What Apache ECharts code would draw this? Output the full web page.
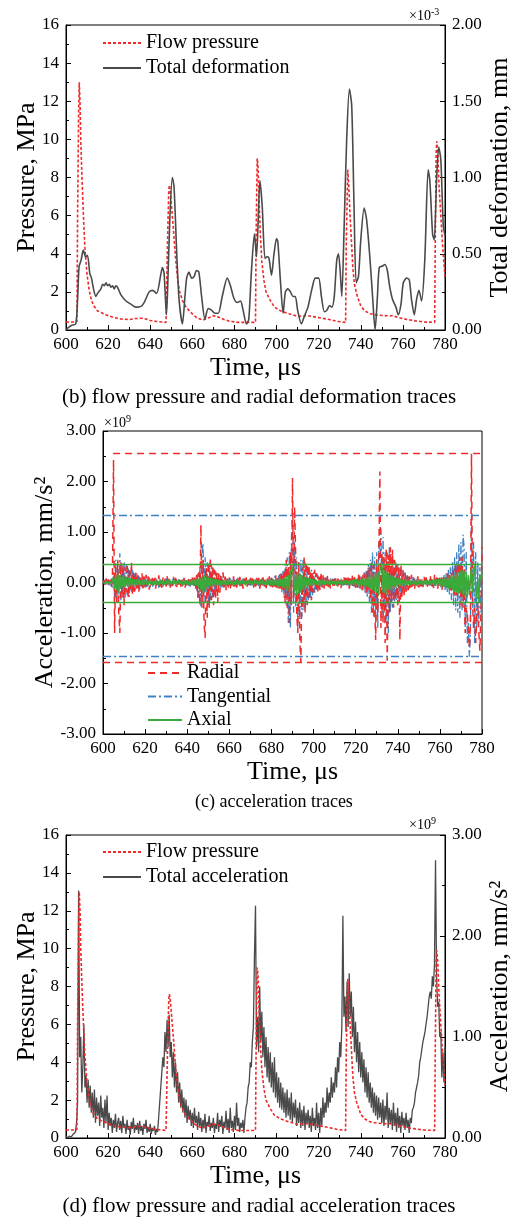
<!DOCTYPE html>
<html>
<head>
<meta charset="utf-8">
<script src="https://cdn.jsdelivr.net/npm/echarts@6/dist/echarts.min.js"></script>
<style>
html,body{margin:0;padding:0;background:#fff;}
#c{width:518px;height:1218px;}
</style>
</head>
<body>
<div id="c"></div>
<script>
// ---------- DATA ----------
// flow pressure, MPa : [time µs, value]
const flowPressure = [
[600,0.42],[604,0.42],[605.2,0.45],[605.5,6],[606,11.5],[606.3,13.0],[606.7,11.8],[607,10],[607.5,8.3],[608,6.8],
[608.5,5.4],[609,4.3],[610,2.9],[611,2.1],[612,1.6],[613,1.3],[615,1.0],[618,0.85],[620,0.75],[623,0.65],
[626,0.58],[630,0.55],[633,0.6],[636,0.62],[638,0.57],[640,0.5],[643,0.45],[647.5,0.4],[647.8,0.5],[648.2,4.5],
[648.8,7.3],[649.1,7.6],[649.6,7.2],[650.2,6.4],[651,5.3],[652,3.8],[653,2.7],[654,2.0],[655.3,1.55],[657,1.2],
[659.5,0.9],[662,0.65],[665,0.52],[668,0.65],[670,0.75],[672,0.7],[675,0.55],[678,0.45],[682,0.4],[690,0.4],
[690.3,5.0],[690.8,9.0],[691.2,8.6],[691.7,6.8],[692.3,5.0],[693,3.6],[694,2.6],[695,2.0],[697,1.55],[699,1.2],
[702,1.0],[706,0.85],[710,0.72],[715,0.75],[720,0.65],[725,0.55],[729,0.45],[732.8,0.4],[733.1,4.5],[733.8,8.4],
[734.3,7.6],[734.9,6.0],[735.5,4.8],[736.2,3.3],[737,2.4],[738,1.9],[740,1.25],[742,1.0],[744.5,0.85],[748,0.78],
[752,0.75],[755,0.75],[758,0.65],[762,0.55],[766,0.48],[770,0.42],[775.1,0.4],[775.4,5.0],[775.8,9.3],[776.1,9.9],
[776.6,9.2],[777.2,7.5],[778,6.0],[779,4.2],[780,2.8]
];

// total deformation, ×10^-3 mm : [time µs, value]
const totalDeformation = [
[600,0.0],[600.6,0.01],[602.5,0.03],[604.6,0.04],[605.5,0.2],[606.2,0.415],[607.2,0.46],[608.2,0.525],[609.3,0.48],[610.2,0.49],
[611.3,0.37],[612.1,0.34],[613.2,0.26],[614.2,0.22],[615,0.24],[616.6,0.27],[617.4,0.3],[618.2,0.29],[619,0.31],[619.8,0.29],
[620.6,0.3],[621.3,0.28],[622.1,0.29],[622.9,0.27],[623.7,0.29],[624.5,0.28],[626.1,0.23],[628.5,0.19],[630.8,0.17],[633.2,0.15],
[635.6,0.155],[637.1,0.18],[639.5,0.25],[641.1,0.26],[643,0.24],[645.1,0.37],[645.8,0.41],[646.6,0.37],[647.7,0.10],[648.2,0.24],
[649.3,0.72],[650.5,1.0],[651.3,0.94],[652.6,0.50],[653.7,0.20],[655.3,0.04],[656.5,0.22],[657.3,0.34],[658.4,0.38],[659.7,0.34],
[660.8,0.35],[662,0.39],[663.1,0.38],[664.4,0.22],[666,0.07],[667.5,0.14],[669.1,0.13],[670.7,0.11],[672.3,0.11],[674.2,0.22],
[676.6,0.34],[678.1,0.29],[679.7,0.21],[681.3,0.18],[682.9,0.19],[684.1,0.13],[685.7,0.04],[686.8,0.07],[688,0.37],[689.5,0.63],
[690.5,0.48],[692.1,0.98],[693.2,0.81],[694.5,0.47],[695.6,0.48],[696.4,0.47],[697.6,0.36],[698.8,0.50],[700,0.60],[700.6,0.58],
[701.9,0.31],[703.1,0.11],[704.2,0.25],[705.4,0.27],[706.6,0.25],[707.8,0.22],[708.9,0.22],[710,0.13],[711.8,0.04],[713.2,0.09],
[714.9,0.15],[716.8,0.27],[718.4,0.34],[720,0.34],[721.3,0.22],[722.7,0.12],[723.9,0.13],[725.2,0.16],[726.3,0.15],[727.4,0.22],
[728.6,0.46],[729.4,0.50],[730.2,0.39],[731,0.22],[732.1,0.68],[733.3,1.25],[734.6,1.58],[735.7,1.47],[736.8,0.81],[737.8,0.31],
[738.9,0.35],[740,0.59],[741.6,0.80],[742.8,0.72],[744.4,0.46],[745.6,0.22],[746.8,0.0],[747.9,0.22],[748.8,0.41],[750.4,0.42],
[751.5,0.43],[752.6,0.39],[753.8,0.28],[755.1,0.20],[756.7,0.15],[757.8,0.10],[759.1,0.17],[760.2,0.31],[761.8,0.34],[763,0.33],
[764.1,0.20],[765.4,0.10],[766.5,0.20],[767.6,0.26],[768.9,0.19],[770.4,0.46],[772,1.05],[772.8,0.98],[774.1,0.63],[774.9,0.59],
[776,0.98],[777,1.20],[778,1.12],[779.2,0.68],[780,0.62]
];

// accelerations, ×10^9 mm/s², one value every 0.5 µs from 600 to 780 (10 values per row = 5 µs)
const accStartTime = 600;
const accStep = 0.5;
const radialAcc = [
0.00,0.04,-0.06,0.08,-0.04,0.06,-0.08,0.05,-0.10,0.15,
2.43,-1.00,0.30,-0.40,0.45,-0.60,-1.00,0.40,-0.30,0.35,
-0.45,0.30,-0.20,0.38,-0.30,0.25,-0.15,0.40,-0.25,0.20,
-0.18,0.22,-0.12,0.15,-0.20,0.10,-0.08,0.18,-0.12,0.12,
-0.10,0.15,-0.08,0.12,-0.14,0.06,-0.10,0.13,-0.06,0.09,
-0.12,0.08,-0.05,0.14,-0.09,0.06,-0.11,0.10,-0.04,0.08,
-0.08,0.12,-0.06,0.07,-0.10,0.05,-0.07,0.11,-0.05,0.09,
-0.09,0.06,-0.04,0.10,-0.08,0.05,-0.06,0.09,-0.10,0.07,
-0.05,0.10,-0.07,0.06,-0.09,0.12,-0.06,0.10,-0.12,0.15,
-0.30,0.20,-0.45,1.14,-0.50,0.45,-0.80,-1.10,0.30,-0.70,
0.40,-0.50,0.50,-0.35,0.30,-0.45,0.25,-0.30,0.20,-0.40,
0.18,-0.20,0.15,-0.12,0.20,-0.10,0.12,-0.15,0.08,-0.10,
0.10,-0.12,0.08,-0.06,0.12,-0.08,0.05,-0.10,0.09,-0.05,
0.11,-0.07,0.06,-0.12,0.08,-0.04,0.10,-0.08,0.06,-0.05,
0.12,-0.06,0.08,-0.10,0.05,-0.08,0.10,-0.06,0.09,-0.12,
0.07,-0.05,0.10,-0.09,0.06,-0.11,0.08,-0.05,0.12,-0.08,
0.10,-0.12,0.06,-0.08,0.14,-0.10,0.09,-0.13,0.16,-0.12,
0.20,-0.15,0.25,-0.40,0.45,-0.50,0.30,-0.80,0.60,-0.45,
2.07,-0.30,1.50,0.55,-0.60,-1.00,0.40,-1.20,-1.58,0.30,
-0.50,0.51,-0.60,0.40,-0.45,0.35,-0.30,0.25,-0.35,0.20,
-0.20,0.25,-0.15,0.18,-0.20,0.12,-0.15,0.20,-0.10,0.14,
-0.12,0.10,-0.08,0.15,-0.10,0.08,-0.12,0.06,-0.08,0.12,
-0.10,0.08,-0.06,0.12,-0.09,0.05,-0.11,0.09,-0.05,0.10,
-0.08,0.14,-0.06,0.10,-0.12,0.08,-0.07,0.15,-0.10,0.12,
-0.14,0.09,-0.10,0.20,-0.12,0.10,-0.15,0.15,-0.08,0.18,
-0.20,0.25,-0.15,0.30,-0.30,0.40,-0.60,0.35,-0.45,-1.14,
0.45,-0.60,0.50,2.20,-0.90,0.60,-0.80,0.50,-1.20,0.65,
-1.55,0.55,-0.60,0.70,-0.40,0.65,-0.50,0.45,-0.35,0.40,
-0.45,0.30,-1.14,0.35,-0.30,0.25,-0.25,0.20,-0.18,0.15,
-0.15,0.12,-0.10,0.15,-0.08,0.10,-0.12,0.08,-0.06,0.12,
-0.10,0.08,-0.12,0.06,-0.09,0.11,-0.05,0.10,-0.08,0.07,
-0.06,0.12,-0.09,0.08,-0.11,0.15,-0.07,0.10,-0.12,0.09,
-0.10,0.13,-0.15,0.10,-0.08,0.12,-0.14,0.18,-0.10,0.15,
-0.20,0.18,-0.15,0.25,-0.30,0.35,-0.25,0.40,-0.20,0.50,
-0.45,0.50,-0.50,0.30,-1.00,-0.50,-0.60,-0.90,-1.30,-0.80,
2.55,-0.40,-0.90,-0.50,-1.20,-0.70,-0.40,-1.00,-1.35,-0.60,
0.70
];
const tangentialAcc = [
0.00,-0.03,0.05,-0.04,0.06,-0.05,0.04,-0.06,0.08,-0.10,
0.20,-0.30,0.45,-0.40,0.35,-0.25,0.58,-0.35,0.40,-0.30,
0.40,-0.30,0.35,-0.25,0.30,-0.28,0.22,-0.20,0.25,-0.18,
0.20,-0.15,0.18,-0.12,0.15,-0.14,0.10,-0.12,0.12,-0.08,
0.10,-0.12,0.08,-0.06,0.10,-0.09,0.06,-0.08,0.07,-0.05,
0.09,-0.07,0.05,-0.10,0.08,-0.04,0.06,-0.08,0.05,-0.06,
0.08,-0.05,0.06,-0.09,0.04,-0.06,0.07,-0.04,0.05,-0.07,
0.06,-0.05,0.08,-0.04,0.05,-0.08,0.06,-0.05,0.04,-0.06,
0.07,-0.05,0.06,-0.08,0.05,-0.06,0.09,-0.10,0.12,-0.15,
0.20,-0.30,0.30,-0.50,0.55,0.78,-0.40,0.50,-0.20,0.40,
-0.45,0.40,-0.35,0.35,-0.30,0.28,-0.25,0.22,-0.20,0.18,
-0.15,0.15,-0.12,0.12,-0.10,0.10,-0.08,0.09,-0.07,0.08,
-0.06,0.08,-0.05,0.07,-0.08,0.05,-0.06,0.07,-0.04,0.06,
-0.07,0.05,-0.06,0.08,-0.05,0.04,-0.07,0.06,-0.05,0.07,
-0.06,0.05,-0.08,0.06,-0.04,0.07,-0.05,0.06,-0.07,0.05,
-0.05,0.08,-0.06,0.04,-0.08,0.06,-0.05,0.07,-0.06,0.09,
-0.08,0.10,-0.07,0.12,-0.10,0.08,-0.12,0.15,-0.12,0.18,
-0.20,0.25,-0.30,0.35,-0.45,0.50,-0.80,0.60,-0.90,0.90,
1.24,-0.60,0.80,-0.50,0.50,-0.90,0.40,-0.75,0.45,-0.68,
0.45,-0.55,0.40,-0.40,0.35,-0.35,0.30,-0.30,0.25,-0.25,
0.20,-0.20,0.18,-0.15,0.15,-0.12,0.12,-0.10,0.10,-0.10,
0.08,-0.08,0.10,-0.07,0.06,-0.09,0.08,-0.05,0.07,-0.06,
0.08,-0.07,0.05,-0.08,0.06,-0.05,0.09,-0.06,0.05,-0.08,
0.07,-0.05,0.06,-0.09,0.08,-0.06,0.05,-0.07,0.09,-0.08,
0.10,-0.12,0.08,-0.10,0.15,-0.12,0.12,-0.15,0.20,-0.20,
0.25,-0.30,0.35,-0.40,0.45,-0.60,0.60,-0.70,0.50,-0.80,
0.60,-0.90,0.80,0.50,1.07,-0.70,0.90,-0.60,0.60,-0.80,
0.60,-1.00,0.70,-0.60,0.50,-0.50,0.45,-0.40,0.40,-0.35,
0.35,-0.30,0.30,-0.28,0.25,-0.22,0.20,-0.18,0.15,-0.15,
0.12,-0.12,0.10,-0.10,0.10,-0.08,0.08,-0.07,0.06,-0.08,
0.07,-0.06,0.05,-0.08,0.06,-0.05,0.08,-0.07,0.05,-0.06,
0.07,-0.05,0.06,-0.08,0.05,-0.07,0.08,-0.06,0.09,-0.08,
0.10,-0.10,0.12,-0.12,0.15,-0.15,0.18,-0.20,0.25,-0.25,
0.30,-0.35,0.40,-0.45,0.50,-0.55,0.60,-0.60,0.75,-0.70,
0.80,-0.55,0.95,0.70,-0.90,0.60,-1.20,-0.80,-1.47,-1.00,
1.33,-0.50,0.80,-1.20,0.60,-0.90,0.40,-0.80,0.30,-0.60,
-0.40
];
const axialAcc = [
0.00,0.02,-0.02,0.03,-0.02,0.02,-0.03,0.02,-0.03,0.05,
0.10,-0.12,0.15,-0.15,0.18,-0.20,0.15,-0.12,0.12,-0.10,
0.12,-0.10,0.10,-0.08,0.09,-0.08,0.08,-0.07,0.07,-0.06,
0.06,-0.05,0.06,-0.05,0.05,-0.06,0.04,-0.05,0.05,-0.04,
0.05,-0.04,0.04,-0.05,0.05,-0.03,0.04,-0.05,0.03,-0.04,
0.05,-0.04,0.03,-0.05,0.04,-0.03,0.05,-0.04,0.03,-0.05,
0.04,-0.03,0.05,-0.04,0.03,-0.05,0.04,-0.03,0.05,-0.04,
0.03,-0.04,0.05,-0.03,0.04,-0.05,0.03,-0.04,0.05,-0.03,
0.04,-0.05,0.03,-0.04,0.05,-0.04,0.06,-0.05,0.07,-0.06,
0.08,-0.10,0.10,-0.15,0.12,-0.20,0.15,-0.18,0.12,-0.12,
0.10,-0.10,0.09,-0.08,0.08,-0.07,0.07,-0.06,0.06,-0.05,
0.05,-0.06,0.04,-0.05,0.05,-0.04,0.04,-0.05,0.05,-0.04,
0.04,-0.03,0.05,-0.04,0.03,-0.05,0.04,-0.03,0.05,-0.04,
0.03,-0.04,0.05,-0.03,0.04,-0.05,0.03,-0.04,0.05,-0.03,
0.04,-0.05,0.03,-0.04,0.05,-0.03,0.04,-0.05,0.03,-0.04,
0.05,-0.03,0.04,-0.05,0.03,-0.04,0.05,-0.04,0.06,-0.05,
0.05,-0.06,0.06,-0.05,0.07,-0.06,0.06,-0.08,0.08,-0.07,
0.08,-0.10,0.10,-0.12,0.12,-0.15,0.15,-0.18,0.20,0.25,
0.31,0.10,-0.20,0.15,-0.25,0.20,-0.22,0.18,-0.20,0.15,
-0.15,0.12,-0.12,0.10,-0.10,0.09,-0.08,0.08,-0.07,0.07,
-0.06,0.06,-0.05,0.05,-0.06,0.04,-0.05,0.05,-0.04,0.05,
-0.05,0.04,-0.03,0.05,-0.04,0.03,-0.05,0.04,-0.03,0.05,
-0.04,0.03,-0.05,0.04,-0.03,0.05,-0.04,0.03,-0.05,0.04,
-0.03,0.05,-0.04,0.03,-0.05,0.04,-0.05,0.05,-0.04,0.06,
-0.05,0.06,-0.06,0.05,-0.07,0.06,-0.06,0.08,-0.07,0.08,
-0.08,0.10,-0.10,0.12,-0.12,0.15,-0.15,0.15,-0.18,0.20,
-0.20,0.22,-0.25,0.25,0.30,0.35,-0.20,0.25,-0.22,0.20,
-0.25,0.18,-0.15,0.15,-0.15,0.12,-0.12,0.10,-0.10,0.09,
-0.08,0.08,-0.07,0.07,-0.06,0.06,-0.05,0.06,-0.05,0.05,
-0.04,0.05,-0.05,0.04,-0.03,0.05,-0.04,0.03,-0.05,0.04,
-0.03,0.05,-0.04,0.03,-0.05,0.04,-0.03,0.05,-0.04,0.03,
-0.05,0.04,-0.04,0.05,-0.05,0.06,-0.05,0.06,-0.06,0.07,
-0.06,0.07,-0.08,0.08,-0.08,0.10,-0.10,0.10,-0.12,0.12,
-0.12,0.15,-0.15,0.15,-0.18,0.18,-0.20,0.20,-0.22,0.25,
-0.20,0.25,-0.25,0.22,-0.28,0.20,-0.30,0.15,-0.25,0.10,
0.30,-0.20,0.20,0.37,-0.15,-0.30,0.10,-0.40,0.15,0.05,
0.25
];
const totalAcc = [
0.02,0.01,0.00,0.02,0.03,0.01,0.02,0.04,0.03,0.06,
0.15,0.35,2.45,0.80,1.00,0.45,0.70,1.12,0.50,0.62,
0.35,0.58,0.30,0.52,0.25,0.45,0.20,0.48,0.15,0.40,
0.22,0.35,0.12,0.42,0.20,0.30,0.10,0.38,0.15,0.42,
0.08,0.25,0.12,0.20,0.05,0.18,0.10,0.24,0.06,0.15,
0.20,0.08,0.17,0.05,0.22,0.10,0.14,0.04,0.18,0.08,
0.12,0.03,0.16,0.09,0.20,0.05,0.13,0.08,0.15,0.04,
0.17,0.07,0.12,0.03,0.14,0.09,0.18,0.05,0.11,0.06,
0.14,0.04,0.10,0.07,0.12,0.03,0.09,0.06,0.20,0.35,
0.50,0.65,0.80,0.70,1.05,0.85,1.17,0.90,1.22,0.80,
0.95,0.60,0.85,0.50,0.75,0.45,0.65,0.35,0.55,0.30,
0.48,0.25,0.40,0.20,0.38,0.15,0.32,0.18,0.28,0.12,
0.25,0.10,0.30,0.15,0.22,0.08,0.26,0.12,0.20,0.06,
0.18,0.10,0.24,0.05,0.16,0.12,0.22,0.07,0.15,0.10,
0.20,0.05,0.14,0.09,0.25,0.06,0.18,0.11,0.22,0.04,
0.16,0.10,0.27,0.08,0.19,0.05,0.30,0.10,0.17,0.06,
0.22,0.08,0.35,0.12,0.20,0.06,0.15,0.10,0.18,0.05,
0.20,0.30,0.35,0.50,0.55,0.75,0.70,0.95,1.10,1.80,
2.30,0.90,1.20,0.85,1.50,0.95,1.25,0.80,1.10,0.70,
1.00,0.60,0.90,0.55,0.85,0.50,0.75,0.45,0.80,0.40,
0.65,0.35,0.60,0.30,0.55,0.28,0.50,0.25,0.45,0.20,
0.48,0.22,0.40,0.18,0.45,0.15,0.35,0.20,0.38,0.12,
0.30,0.15,0.35,0.10,0.28,0.12,0.32,0.08,0.25,0.14,
0.28,0.10,0.22,0.06,0.30,0.12,0.20,0.08,0.35,0.10,
0.25,0.05,0.30,0.12,0.40,0.20,0.35,0.25,0.50,0.30,
0.45,0.35,0.60,0.40,0.55,0.45,0.70,0.50,0.80,0.65,
0.95,0.80,1.10,2.20,1.20,1.40,1.05,1.55,1.10,1.63,
1.20,1.45,1.00,1.30,0.85,1.15,0.75,1.05,0.65,0.95,
0.60,0.85,0.55,0.78,0.45,0.70,0.40,0.65,0.35,0.55,
0.30,0.50,0.25,0.45,0.22,0.42,0.18,0.40,0.20,0.35,
0.15,0.38,0.12,0.32,0.18,0.45,0.10,0.30,0.15,0.28,
0.08,0.35,0.12,0.25,0.06,0.30,0.10,0.22,0.05,0.26,
0.12,0.20,0.08,0.25,0.10,0.18,0.05,0.20,0.15,0.28,
0.30,0.35,0.45,0.50,0.55,0.62,0.75,0.80,0.88,0.95,
1.00,1.05,1.13,1.20,1.30,1.40,1.45,1.38,1.60,1.50,
1.72,2.75,1.60,1.30,1.35,1.00,1.05,0.60,0.85,0.55,
0.90
];

// max / min envelope lines of the acceleration traces, ×10^9 mm/s²
const radialLimits = { max: 2.55, maxFrom: 604.8, min: -1.58 };
const tangentialLimits = { max: 1.33, min: -1.47 };
const axialLimits = { max: 0.37, min: -0.40 };

// ---------- CHART ----------
const FONT = 'Liberation Serif';
const RED = '#ee2a2a', GRAY = '#4a4a4a', BLUE = '#3f82c4', GREEN = '#3aaa3a';

function withTime(arr) { return arr.map((v, i) => [accStartTime + i * accStep, v]); }

function xAxis(grid) {
  return {
    type: 'value', gridIndex: grid, min: 600, max: 780, interval: 20,
    name: 'Time, \u03bcs', nameLocation: 'middle', nameGap: 25, nameMoveOverlap: false,
    nameTextStyle: { fontFamily: FONT, fontSize: 26, color: '#000' },
    axisLine: { show: true, onZero: false, lineStyle: { color: '#000', width: 1 } },
    axisTick: { show: true, inside: true, length: 5, lineStyle: { color: '#000' } },
    minorTick: { show: true, splitNumber: 2, length: 3, lineStyle: { color: '#000' } },
    axisLabel: { fontFamily: FONT, fontSize: 17, color: '#000', margin: 6 },
    splitLine: { show: false }
  };
}
function yAxis(grid, pos, min, max, interval, name, nameGap, fmt) {
  return {
    type: 'value', gridIndex: grid, position: pos, min, max, interval,
    name, nameLocation: 'middle', nameGap, nameRotate: 90, nameMoveOverlap: false,
    nameTextStyle: { fontFamily: FONT, fontSize: 26, color: '#000' },
    axisLine: { show: true, onZero: false, lineStyle: { color: '#000', width: 1 } },
    axisTick: { show: true, inside: true, length: 5, lineStyle: { color: '#000' } },
    minorTick: { show: true, splitNumber: 2, length: 3, lineStyle: { color: '#000' } },
    axisLabel: { fontFamily: FONT, fontSize: 17, color: '#000', margin: 7, formatter: fmt },
    splitLine: { show: false }
  };
}
const f2 = v => v.toFixed(2);
const f0 = v => String(v);

function hLine(y, from) {
  return [{ coord: [from, y] }, { coord: [780, y] }];
}

const supRich = { s: { fontFamily: FONT, fontSize: 10, color: '#000', verticalAlign: 'top', padding: [0, 0, 8, 0] } };
function multTitle(text, left, top) {
  return { text, left, top, padding: 0, textStyle: { fontFamily: FONT, fontSize: 14, fontWeight: 'normal', color: '#000', rich: supRich } };
}
function caption(text, left, top, size) {
  return { text, left, top, padding: 0, textStyle: { fontFamily: FONT, fontSize: size, fontWeight: 'normal', color: '#000' } };
}
const legendText = { fontFamily: FONT, fontSize: 20, color: '#000', lineHeight: 20 };
const legendBase = { orient: 'vertical', padding: 0, itemHeight: 12, selectedMode: false, textStyle: legendText, itemStyle: { opacity: 0 } };

const gridBase = { show: true, borderColor: '#000', borderWidth: 1, containLabel: false, outerBoundsMode: 'none' };

const option = {
  animation: false,
  backgroundColor: '#fff',
  title: [
    multTitle('\u00d710{s|-3}', 409, 7),
    multTitle('\u00d710{s|9}', 104, 414),
    multTitle('\u00d710{s|9}', 409, 816),
    caption('(b) flow pressure and radial deformation traces', 'center', 387, 21),
    caption('(c) acceleration traces', 195, 793, 18),
    caption('(d) flow pressure and radial acceleration traces', 'center', 1196, 21)
  ],
  grid: [
    Object.assign({ left: 66, top: 25, width: 379, height: 305 }, gridBase),
    Object.assign({ left: 103, top: 431, width: 379, height: 303 }, gridBase),
    Object.assign({ left: 66, top: 835, width: 379, height: 303 }, gridBase)
  ],
  legend: [
    Object.assign({ left: 102, top: 33, itemWidth: 38, itemGap: 5, data: ['Flow pressure', 'Total deformation'] }, legendBase),
    Object.assign({ left: 147, top: 663, itemWidth: 34, itemGap: 3.5, data: ['Radial', 'Tangential', 'Axial'] }, legendBase),
    Object.assign({ left: 102, top: 842, itemWidth: 38, itemGap: 5, data: ['Flow pressure', 'Total acceleration'] }, legendBase)
  ],
  xAxis: [xAxis(0), xAxis(1), xAxis(2)],
  yAxis: [
    yAxis(0, 'left', 0, 16, 2, 'Pressure, MPa', 26, f0),
    yAxis(0, 'right', 0, 2, 0.5, 'Total deformation, mm', 42, f2),
    yAxis(1, 'left', -3, 3, 1, 'Acceleration, mm/s\u00b2', 45, f2),
    yAxis(2, 'left', 0, 16, 2, 'Pressure, MPa', 26, f0),
    yAxis(2, 'right', 0, 3, 1, 'Acceleration, mm/s\u00b2', 42, f2)
  ],
  series: [
    { name: 'Flow pressure', type: 'line', xAxisIndex: 0, yAxisIndex: 0, data: flowPressure, symbol: 'none',
      lineStyle: { color: RED, width: 1.6, type: [3, 2] }, itemStyle: { color: RED } },
    { name: 'Total deformation', type: 'line', xAxisIndex: 0, yAxisIndex: 1, data: totalDeformation, symbol: 'none', smooth: 0.25,
      lineStyle: { color: GRAY, width: 1.6 }, itemStyle: { color: GRAY } },
    { name: 'Tangential', type: 'line', xAxisIndex: 1, yAxisIndex: 2, data: withTime(tangentialAcc), symbol: 'none',
      lineStyle: { color: BLUE, width: 1.3, type: [8, 3, 2, 3] }, itemStyle: { color: BLUE },
      markLine: { silent: true, symbol: 'none', label: { show: false }, lineStyle: { color: BLUE, width: 1.3, type: [8, 3, 2, 3] },
        data: [hLine(tangentialLimits.max, 600), hLine(tangentialLimits.min, 600)] } },
    { name: 'Radial', type: 'line', xAxisIndex: 1, yAxisIndex: 2, data: withTime(radialAcc), symbol: 'none',
      lineStyle: { color: RED, width: 1.5, type: [7, 5] }, itemStyle: { color: RED },
      markLine: { silent: true, symbol: 'none', label: { show: false }, lineStyle: { color: RED, width: 1.3, type: [7, 5] },
        data: [hLine(radialLimits.max, radialLimits.maxFrom), hLine(radialLimits.min, 600)] } },
    { name: 'Axial', type: 'line', xAxisIndex: 1, yAxisIndex: 2, data: withTime(axialAcc), symbol: 'none',
      lineStyle: { color: GREEN, width: 1.4 }, itemStyle: { color: GREEN },
      markLine: { silent: true, symbol: 'none', label: { show: false }, lineStyle: { color: GREEN, width: 1.3, type: 'solid' },
        data: [hLine(axialLimits.max, 600), hLine(axialLimits.min, 600)] } },
    { name: 'Total acceleration', type: 'line', xAxisIndex: 2, yAxisIndex: 4, data: withTime(totalAcc), symbol: 'none',
      lineStyle: { color: GRAY, width: 1.3 }, itemStyle: { color: GRAY } },
    { name: 'Flow pressure', type: 'line', xAxisIndex: 2, yAxisIndex: 3, data: flowPressure, symbol: 'none',
      lineStyle: { color: RED, width: 1.6, type: [3, 2] }, itemStyle: { color: RED } }
  ]
};

const chart = echarts.init(document.getElementById('c'), null, { renderer: 'canvas', width: 518, height: 1218 });
chart.setOption(option);
</script>
</body>
</html>
